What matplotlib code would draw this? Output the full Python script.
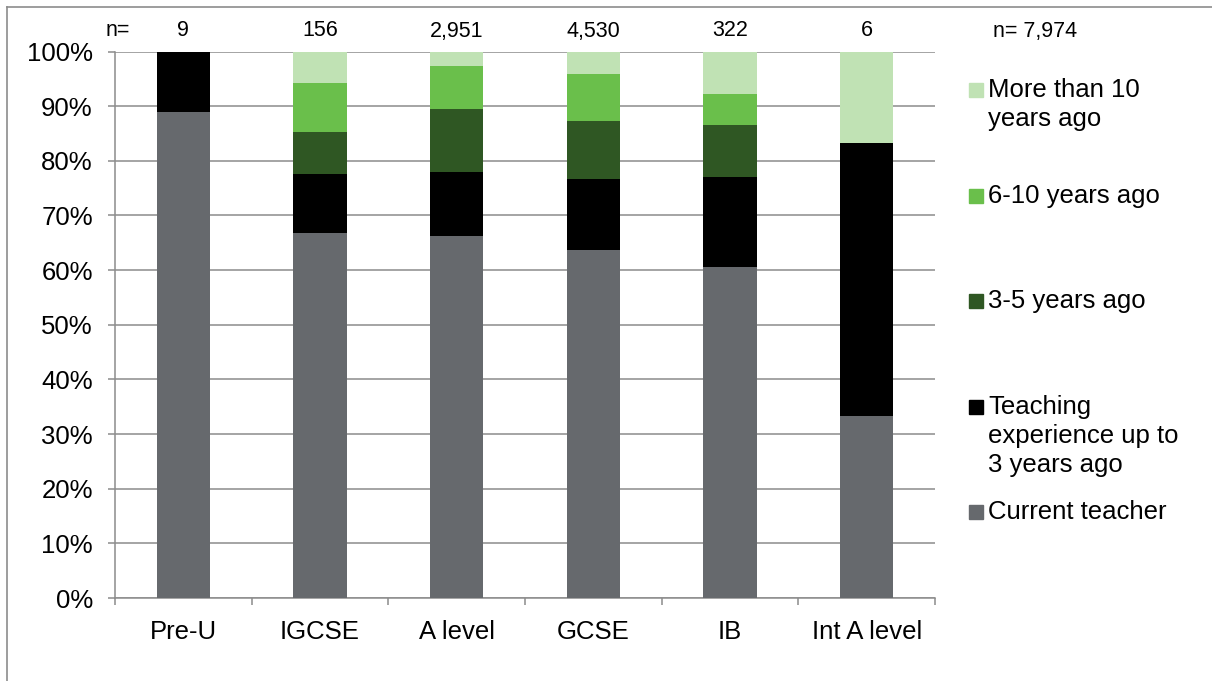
import matplotlib
matplotlib.use("Agg")
import matplotlib.pyplot as plt
from matplotlib.patches import Rectangle
from matplotlib.lines import Line2D
from matplotlib.ticker import FixedLocator, PercentFormatter
import numpy as np

plt.rcParams['font.family'] = ['Liberation Sans', 'DejaVu Sans']

# Qualifications and respondents per qualification
categories = ["Pre-U", "IGCSE", "A level", "GCSE", "IB", "Int A level"]
n_counts = [9, 156, 2951, 4530, 322, 6]
n_total = 7974

# Share of respondents (%) by when they last taught, stacked bottom to top
current_teacher = [88.9, 66.7, 66.3, 63.7, 60.6, 33.3]
up_to_3_years = [11.1, 10.8, 11.6, 12.9, 16.5, 50.0]
three_to_5_years = [0.0, 7.8, 11.6, 10.6, 9.5, 0.0]
six_to_10_years = [0.0, 9.0, 7.9, 8.6, 5.7, 0.0]
more_than_10_years = [0.0, 5.7, 2.6, 4.2, 7.7, 16.7]

series = [
    ("Current teacher", current_teacher, "#66696d"),
    ("Teaching\nexperience up to\n3 years ago", up_to_3_years, "#000000"),
    ("3-5 years ago", three_to_5_years, "#2f5723"),
    ("6-10 years ago", six_to_10_years, "#6abf4b"),
    ("More than 10\nyears ago", more_than_10_years, "#c0e2b4"),
]

W, H = 1212, 681
fig = plt.figure(figsize=(W / 100, H / 100), dpi=100)

grey = "#8c8c8c"

# outer frame of the chart area
fig.add_artist(Line2D([7 / W, 1.0], [1 - 7 / H, 1 - 7 / H], color=grey, lw=1.2,
                      transform=fig.transFigure))
fig.add_artist(Line2D([7 / W, 7 / W], [0.0, 1 - 7 / H], color=grey, lw=1.2,
                      transform=fig.transFigure))

left, right, top, bottom = 115, 935, 51.5, 598
ax = fig.add_axes([left / W, 1 - bottom / H, (right - left) / W, (bottom - top) / H])

x = np.arange(len(categories))
base = np.zeros(len(categories))
for label, vals, color in series:
    vals = np.array(vals)
    ax.bar(x, vals, bottom=base, width=0.39, color=color, zorder=3, linewidth=0)
    base += vals

ax.set_xlim(-0.5, len(categories) - 0.5)
ax.set_ylim(0, 100)

ax.yaxis.set_major_locator(FixedLocator(np.arange(0, 101, 10)))
ax.yaxis.set_major_formatter(PercentFormatter(decimals=0))
ax.grid(axis="y", color=grey, lw=1.1, zorder=0)
ax.set_axisbelow(True)

ax.set_xticks(x)
ax.set_xticklabels(categories)
ax.set_xticks(np.arange(-0.5, len(categories), 1.0), minor=True)
ax.tick_params(axis="x", which="major", length=0, pad=16, labelsize=18.5)
ax.tick_params(axis="x", which="minor", length=5, color=grey, width=1.1, direction="out")
ax.tick_params(axis="y", length=5, color=grey, width=1.1, pad=11, labelsize=18.5)

for side in ["top", "right"]:
    ax.spines[side].set_visible(False)
for side in ["left", "bottom"]:
    ax.spines[side].set_color(grey)
    ax.spines[side].set_linewidth(1.1)

# respondent counts above each bar
fig.text(118 / W, 1 - 31 / H, "n=", ha="center", va="center", fontsize=15.5)
for xi, n in zip(x, n_counts):
    xd = ax.transData.transform((xi, 0))[0]
    fig.text(xd / W, 1 - 31 / H, f"{n:,}", ha="center", va="center", fontsize=15.5)
fig.text(993 / W, 1 - 31 / H, f"n= {n_total:,}", ha="left", va="center", fontsize=15.5)

# legend, top entry first
legend_rows = [
    ("More than 10\nyears ago", "#c0e2b4", 90),
    ("6-10 years ago", "#6abf4b", 196),
    ("3-5 years ago", "#2f5723", 301),
    ("Teaching\nexperience up to\n3 years ago", "#000000", 407),
    ("Current teacher", "#66696d", 512),
]
line_h = 29
for text, color, yc in legend_rows:
    fig.add_artist(Rectangle((969 / W, 1 - (yc + 7) / H), 14 / W, 14 / H,
                             color=color, transform=fig.transFigure))
    for k, line in enumerate(text.split("\n")):
        fig.text(988 / W, 1 - (yc + k * line_h) / H, line, ha="left", va="center",
                 fontsize=18.5)

fig.savefig("out.png", dpi=100)
